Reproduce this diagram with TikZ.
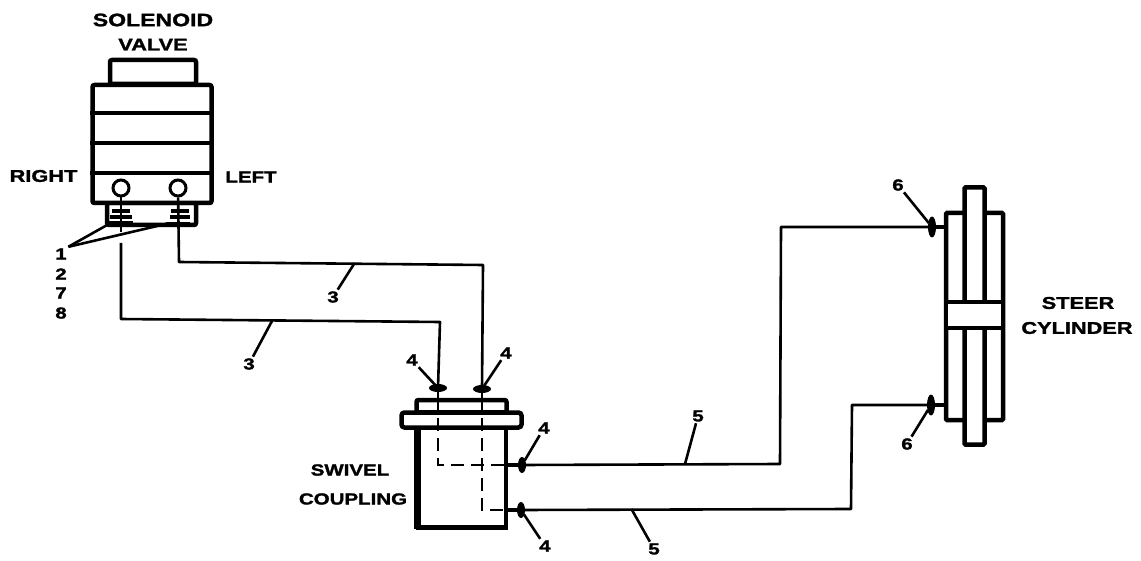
\documentclass[tikz,border=0pt]{standalone}
\usepackage{fontspec}
\setmainfont{Liberation Sans}[BoldFont={Liberation Sans Bold},FakeStretch=1.28,BoldFeatures={FakeBold=1.6}]
\usetikzlibrary{shapes.geometric, positioning}
\tikzset{
	heavy/.style={draw=black, line width=4.5pt, minimum width=#1},
	part/.style={heavy=#1, fill=white, inner sep=0pt},
	pipeline/.style={draw=black, line width=2.6pt, line join=round},
	hidden/.style={draw=black, line width=2.6pt, dash pattern=on 13pt off 7pt},
	leader/.style={draw=black, line width=2.6pt, shorten >=-1pt},
	callout/.style={font=\bfseries\fontsize{16}{16}\selectfont, inner sep=1.5pt},
	title/.style={font=\bfseries\fontsize{#1}{#1}\selectfont, inner sep=0pt},
	title/.default=17,
	fitting/.style={ellipse, fill=black, inner sep=0pt},
	nut/.style={fill=black, inner sep=0pt, minimum height=4pt, minimum width=#1},
}
\begin{document}
\begin{tikzpicture}[x=1pt, y=-1pt]
	\useasboundingbox (0,0) rectangle (1141,561);

	\node[part=86pt, minimum height=24pt, rounded corners=2pt] (valvecap) at (153,72) {};
	\node[part=89pt, minimum height=22pt, rounded corners=2pt] (valveport) at (151.5,214) {};
	\node[part=119pt, minimum height=118pt, rounded corners=2pt] (valve) at (152,144) {};
	\draw[line width=3.5pt] (valve.west |- 0,113) -- (valve.east |- 0,113);
	\draw[line width=3.5pt] (valve.west |- 0,143) -- (valve.east |- 0,143);
	\draw[line width=3.5pt] (valve.west |- 0,173) -- (valve.east |- 0,173);
	\node[circle, draw=black, line width=3pt, fill=white, minimum size=16pt, inner sep=0pt] (portright) at (121,188) {};
	\node[circle, draw=black, line width=3pt, fill=white, minimum size=16pt, inner sep=0pt] (portleft) at (178,188) {};

	\node[nut=18pt] (nutra) at (121,211) {};
	\node[nut=22pt] (nutrb) at (121,217) {};
	\node[nut=26pt] (nutrc) at (120,223) {};
	\node[nut=18pt] (nutla) at (180,211) {};
	\node[nut=20pt] (nutlb) at (180,217) {};
	\node[nut=24pt] (nutlc) at (178,224) {};

	\node[part=90pt, minimum height=26pt, rounded corners=2pt] (swivelcap) at (461.5,413) {};
	\node[part=88pt, minimum height=115pt] (swivel) at (462,470) {};
	\draw[line width=6.5pt] (417.5,427) -- (417.5,529);
	\node[part=120pt, minimum height=15pt, rounded corners=3pt] (flange) at (461.5,420) {};

	\node[part=57pt, minimum height=207pt, rounded corners=1pt] (cylinder) at (974.5,316.5) {};
	\node[part=20pt, minimum height=257pt, rounded corners=1pt] (rod) at (974.5,316) {};
	\node[part=57pt, minimum height=26pt] (piston) at (974.5,315) {};

	\node[fitting, minimum width=18pt, minimum height=8pt] (fitta) at (438,388) {};
	\node[fitting, minimum width=18pt, minimum height=8pt] (fittb) at (482,389) {};
	\node[fitting, minimum width=8pt, minimum height=16pt] (fittc) at (522,465) {};
	\node[fitting, minimum width=8pt, minimum height=16pt] (fittd) at (521,510) {};
	\node[fitting, minimum width=8pt, minimum height=21pt] (fitte) at (932,227) {};
	\node[fitting, minimum width=8pt, minimum height=21pt] (fittf) at (931,405) {};

	\draw[pipeline] (portright) -- (121,232);
	\draw[pipeline] (121,243) -- (121,319) -- (440,322) -- (fitta.center);
	\draw[pipeline] (portleft) -- (179,262) -- (483,265) -- (fittb.center);
	\draw[pipeline, line width=4pt] (swivel.east |- fittc) -- (fittc.center);
	\draw[pipeline] (fittc.center) -- (780,464) -- (781,227) -- (fitte.center);
	\draw[pipeline, line width=4pt] (swivel.east |- fittd) -- (fittd.center);
	\draw[pipeline] (fittd.center) -- (851,509) -- (852,405) -- (fittf.center);
	\draw[line width=4.5pt] (fitte.center) -- (cylinder.west |- fitte);
	\draw[line width=4.5pt] (fittf.center) -- (cylinder.west |- fittf);

	\draw[pipeline] (fitta.center) -- (438,415);
	\draw[pipeline] (fittb.center) -- (482,415);
	\draw[hidden] (438,418) -- (438,465) -- (504,465);
	\draw[hidden] (482,418) -- (482,510) -- (504,510);

	\node[title=18] (solenoid) at (153,20) {SOLENOID};
	\node[title=17, below=12pt of solenoid] (valvetxt) {VALVE};
	\node[title] (righttxt) at (43.5,176) {RIGHT};
	\node[title=16] (lefttxt) at (251,177) {LEFT};
	\node[title=16] (swiveltxt) at (350,470) {SWIVEL};
	\node[title=16] (coupling) at (353,499) {COUPLING};
	\node[title=17] (steer) at (1078,303) {STEER};
	\node[title=17] (cylindertxt) at (1077,328) {CYLINDER};

	\node[callout] (numa) at (61,254) {1};
	\node[callout] (numb) at (61,274) {2};
	\node[callout] (numc) at (61,293) {7};
	\node[callout] (numd) at (61,313) {8};
	\node[callout] (nume) at (333,297) {3};
	\node[callout] (numf) at (249,364) {3};
	\node[callout] (numg) at (412,360) {4};
	\node[callout] (numh) at (506,353) {4};
	\node[callout] (numi) at (544,428) {4};
	\node[callout] (numj) at (545,546) {4};
	\node[callout] (numk) at (698,416) {5};
	\node[callout] (numl) at (654,549) {5};
	\node[callout] (numm) at (898,185) {6};
	\node[callout] (numn) at (907,444) {6};

	\draw[leader] (numa.north east) -- (nutrc.south west);
	\draw[leader] (numa.north east) -- (nutlc.west);
	\draw[leader] (nume) -- (354,264);
	\draw[leader] (numf) -- (272,321);
	\draw[leader] (numg) -- (fitta);
	\draw[leader] (numh) -- (fittb);
	\draw[leader] (numi) -- (fittc);
	\draw[leader] (numj) -- (fittd);
	\draw[leader] (numk) -- (685,464);
	\draw[leader] (numl) -- (632,510);
	\draw[leader] (numm) -- (fitte);
	\draw[leader] (numn) -- (fittf);
\end{tikzpicture}
\end{document}
